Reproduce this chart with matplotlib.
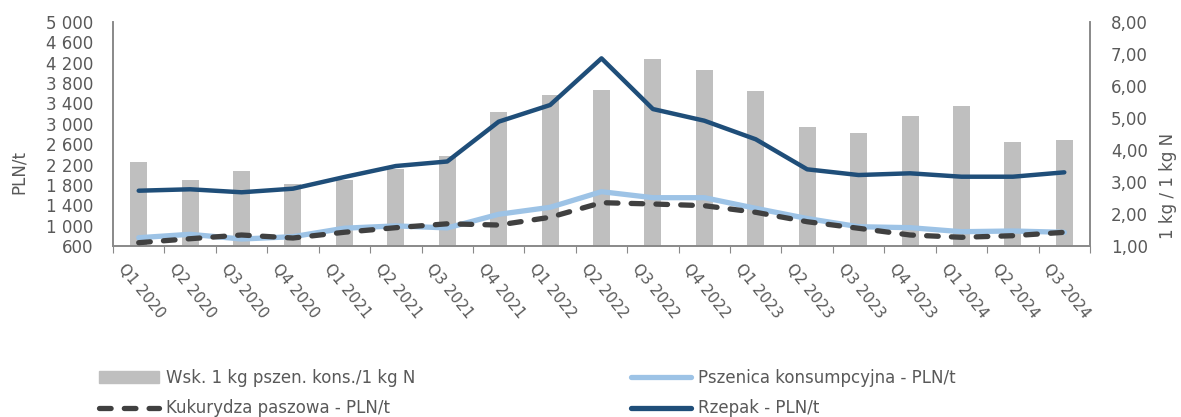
import matplotlib
matplotlib.use('Agg')
import matplotlib.pyplot as plt
import matplotlib.transforms as mtransforms
from matplotlib.patches import Patch
from matplotlib.lines import Line2D
import numpy as np

# === data
quarters = ['Q1 2020', 'Q2 2020', 'Q3 2020', 'Q4 2020',
            'Q1 2021', 'Q2 2021', 'Q3 2021', 'Q4 2021',
            'Q1 2022', 'Q2 2022', 'Q3 2022', 'Q4 2022',
            'Q1 2023', 'Q2 2023', 'Q3 2023', 'Q4 2023',
            'Q1 2024', 'Q2 2024', 'Q3 2024']
wsk = [3.62, 3.06, 3.34, 2.93, 3.06, 3.42, 3.82, 5.20, 5.72, 5.88,
       6.84, 6.50, 5.83, 4.73, 4.54, 5.06, 5.38, 4.26, 4.31]
pszenica = [763, 830, 737, 783, 950, 995, 955, 1223, 1360, 1667,
            1549, 1549, 1340, 1140, 979, 960, 881, 895, 869]
kukurydza = [665, 743, 816, 757, 870, 960, 1036, 1012, 1164, 1451,
             1425, 1392, 1262, 1077, 948, 816, 771, 802, 869]
rzepak = [1686, 1714, 1655, 1726, 1955, 2171, 2260, 3042, 3369, 4286,
          3290, 3061, 2696, 2106, 1994, 2028, 1961, 1961, 2047]

left_ticks = list(range(600, 5001, 400))
right_ticks = [1, 2, 3, 4, 5, 6, 7, 8]

labels = ['Wsk. 1 kg pszen. kons./1 kg N', 'Kukurydza paszowa - PLN/t',
          'Pszenica konsumpcyjna - PLN/t', 'Rzepak - PLN/t']

txt_col = '#595959'
ax_col = '#898989'
c_bar, c_psz, c_kuk, c_rze = '#BFBFBF', '#9DC3E6', '#404040', '#1F4E79'
dash = (0, (2.2, 2.5))
fs = 12

# --- figure
fig = plt.figure(figsize=(11.81, 4.17), dpi=100)
ax = fig.add_axes([113 / 1181, 1 - 246 / 417, (1090 - 113) / 1181, (246 - 22) / 417])
ax2 = ax.twinx()

x = np.arange(len(quarters))

# bars on secondary axis
ax2.bar(x, wsk, width=0.33, color=c_bar, zorder=1)
ax2.set_ylim(1, 8)
ax2.set_yticks(right_ticks)
ax2.set_yticklabels([('%.2f' % v).replace('.', ',') for v in right_ticks])

# lines on primary axis, above bars
ax.set_zorder(ax2.get_zorder() + 1)
ax.patch.set_visible(False)
ax.plot(x, pszenica, color=c_psz, lw=3.8, solid_capstyle='round', zorder=3)
ax.plot(x, kukurydza, color=c_kuk, lw=3.8, ls=dash, dash_capstyle='round', zorder=4)
ax.plot(x, rzepak, color=c_rze, lw=3.2, solid_capstyle='round', zorder=5)

ax.set_ylim(600, 5000)
ax.set_yticks(left_ticks)
ax.set_yticklabels([('{:,}'.format(v)).replace(',', ' ') for v in left_ticks])
ax.set_xlim(-0.5, len(quarters) - 0.5)

# x ticks between categories, labels at centers
ax.set_xticks(np.arange(-0.5, len(quarters), 1.0))
ax.set_xticklabels([])
ax.set_xticks(x, minor=True)
ax.set_xticklabels(quarters, minor=True, rotation=-51, ha='left', va='top',
                   rotation_mode='anchor', fontsize=11, color=txt_col)
ax.tick_params(axis='x', which='minor', length=0, pad=11)
ax.tick_params(axis='x', which='major', length=5, color=ax_col, direction='out')
offset = mtransforms.ScaledTranslation(-12 / 100, 0, fig.dpi_scale_trans)
for lab in ax.xaxis.get_minorticklabels():
    lab.set_transform(lab.get_transform() + offset)

for a in (ax, ax2):
    a.tick_params(axis='y', length=0, labelsize=fs, labelcolor=txt_col)
    a.spines['top'].set_visible(False)
    for s in ('left', 'right', 'bottom'):
        a.spines[s].set_color(ax_col)
        a.spines[s].set_linewidth(1.2)
ax.tick_params(axis='y', pad=14)
ax2.tick_params(axis='y', pad=15)

ax.set_ylabel('PLN/t', fontsize=fs, color=txt_col)
ax.yaxis.set_label_coords(-0.087, 0.33)
ax2.set_ylabel('1 kg / 1 kg N', fontsize=fs, color=txt_col, rotation=90)
ax2.yaxis.set_label_coords(1.071, 0.27)

# --- legend
handles = [Patch(color=c_bar),
           Line2D([], [], color=c_kuk, lw=3.8, ls=dash, dash_capstyle='round'),
           Line2D([], [], color=c_psz, lw=3.8, solid_capstyle='round'),
           Line2D([], [], color=c_rze, lw=3.8, solid_capstyle='round')]
leg = fig.legend(handles, labels, ncol=2, loc='lower left',
                 bbox_to_anchor=(84 / 1181, -0.037), frameon=False,
                 fontsize=fs, handlelength=3.6, handletextpad=0.4,
                 columnspacing=12.95, labelspacing=0.75)
for t in leg.get_texts():
    t.set_color(txt_col)

fig.savefig('out.png', dpi=100)
